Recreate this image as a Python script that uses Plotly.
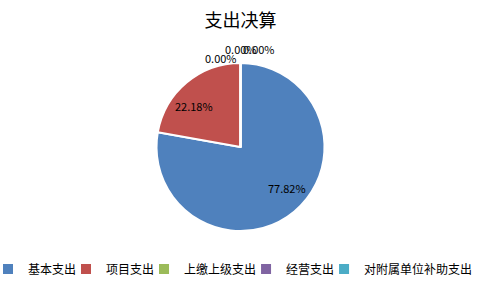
import math
import plotly.graph_objects as go

labels = ["基本支出", "项目支出", "上缴上级支出", "经营支出", "对附属单位补助支出"]
values = [77.82, 22.18, 0.0, 0.0, 0.0]
colors = ["#4F81BD", "#C0504D", "#9BBB59", "#8064A2", "#4BACC6"]

total = sum(values)
pct = [f"{v / total * 100:.2f}%" for v in values]

FONT = "Noto Sans CJK SC, Liberation Sans, sans-serif"
W, H = 481, 289
M_T, M_B = 63, 58
PLOT_H = H - M_T - M_B

fig = go.Figure(go.Pie(
    labels=labels,
    values=values,
    sort=False,
    direction="clockwise",
    rotation=0,
    marker=dict(colors=colors, line=dict(color="white", width=2)),
    textinfo="none",
    hoverinfo="label+percent",
    domain=dict(x=[0, 1], y=[0, 1]),
))

# data labels placed at slice angles (Excel-like best-fit positions)
R_px = PLOT_H / 2
annotations = []
cum = 0.0
for v, p in zip(values, pct):
    if v > 0:
        mid = (cum + v / 2) / total * 2 * math.pi - math.radians(9)
        r = 0.74 * R_px
        ax = 0.5 + r * math.sin(mid) / W
        ay = 0.5 + r * math.cos(mid) / PLOT_H
        annotations.append(dict(x=ax, y=ay, xref="paper", yref="paper", text=p,
                                xanchor="center", yanchor="middle", showarrow=False,
                                font=dict(family=FONT, size=11, color="#000000")))
    cum += v

# labels for zero-valued slices, stacked just above the top of the pie
zero_pos = [(0.4595, 1.030), (0.501, 1.083), (0.538, 1.083)]
zero_idx = [i for i, v in enumerate(values) if v == 0]
for (ax, ay), i in zip(zero_pos, zero_idx):
    annotations.append(dict(x=ax, y=ay, xref="paper", yref="paper", text=pct[i],
                            xanchor="center", yanchor="middle", showarrow=False,
                            font=dict(family=FONT, size=11, color="#000000")))

fig.update_layout(
    width=W, height=H,
    margin=dict(l=0, r=0, t=M_T, b=M_B, autoexpand=False),
    paper_bgcolor="white",
    plot_bgcolor="white",
    title=dict(text="支出决算", x=0.5, xanchor="center", y=0.927, yanchor="middle",
               font=dict(family=FONT, size=18, color="#000000")),
    showlegend=True,
    legend=dict(orientation="h", x=0.5, xanchor="center", y=-0.226, yanchor="middle",
                font=dict(family=FONT, size=12, color="#000000"),
                itemwidth=30, indentation=-15, tracegroupgap=0),
    annotations=annotations,
)

fig.write_html("out.html")
